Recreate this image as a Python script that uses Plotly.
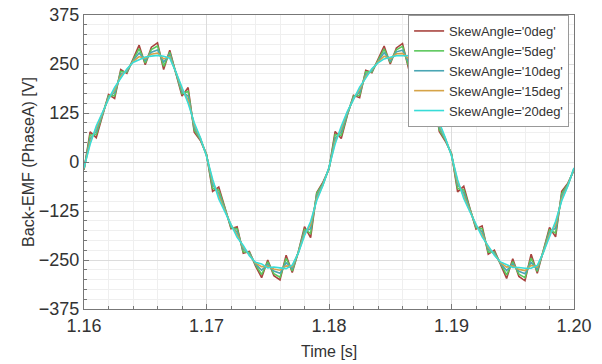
import numpy as np
import plotly.graph_objects as go

time_s = np.round(np.linspace(1.16, 1.20, 81), 5)

emf_0deg = [-20, 77, 62, 118, 172, 162, 236, 226, 262, 298, 248, 293, 304, 236, 285, 226, 168, 190, 76, 55,
            20, -75, -64, -116, -170, -165, -233, -228, -265, -295, -250, -290, -301, -238, -282, -229, -165, -193, -78, -52,
            -18, 78, 60, 120, 170, 164, 234, 228, 260, 296, 250, 291, 302, 238, 283, 224, 170, 188, 78, 53,
            22, -76, -62, -118, -171, -163, -235, -225, -263, -297, -247, -292, -303, -235, -284, -227, -167, -191, -75, -54,
            -21]
emf_5deg = [-19, 69, 70, 120, 169, 169, 231, 229, 260, 289, 253, 287, 296, 244, 280, 227, 174, 180, 82, 57,
            19, -67, -72, -118, -167, -171, -229, -231, -262, -287, -255, -285, -294, -246, -278, -229, -172, -182, -80, -55,
            -17, 70, 68, 121, 168, 170, 230, 230, 259, 288, 254, 286, 295, 245, 279, 226, 175, 179, 83, 56,
            20, -68, -71, -119, -168, -170, -230, -230, -261, -288, -254, -286, -295, -245, -279, -228, -173, -181, -81, -56,
            -19]
emf_10deg = [-17, 59, 78, 123, 165, 177, 224, 232, 258, 278, 259, 280, 286, 255, 274, 228, 180, 168, 89, 59,
             17, -57, -80, -121, -163, -179, -222, -234, -260, -276, -261, -278, -284, -257, -272, -230, -178, -170, -87, -57,
             -16, 60, 77, 124, 164, 178, 223, 233, 257, 279, 258, 281, 285, 256, 273, 227, 181, 167, 90, 58,
             18, -58, -79, -122, -164, -178, -223, -233, -259, -277, -260, -279, -285, -256, -273, -229, -179, -169, -88, -58,
             -17]
emf_15deg = [-16, 51, 86, 126, 162, 184, 219, 235, 256, 269, 264, 275, 278, 263, 269, 229, 186, 158, 95, 61,
             16, -50, -88, -124, -160, -186, -217, -237, -258, -267, -266, -273, -276, -265, -267, -231, -184, -160, -93, -59,
             -15, 52, 85, 127, 161, 185, 218, 236, 255, 270, 263, 276, 277, 264, 268, 228, 187, 157, 96, 60,
             17, -51, -87, -125, -161, -185, -218, -236, -257, -268, -265, -274, -277, -264, -268, -230, -185, -159, -94, -60,
             -16]
emf_20deg = [-15, 45, 92, 128, 160, 190, 215, 237, 254, 262, 268, 270, 272, 270, 265, 230, 190, 150, 100, 62,
             15, -44, -94, -126, -158, -192, -213, -239, -256, -260, -270, -268, -270, -272, -263, -232, -188, -152, -98, -60,
             -14, 46, 91, 129, 159, 191, 214, 238, 253, 263, 267, 271, 271, 271, 264, 229, 191, 149, 101, 61,
             16, -45, -93, -127, -159, -191, -214, -238, -255, -261, -269, -269, -271, -271, -264, -231, -189, -151, -99, -61,
             -15]

series_names = ["SkewAngle='0deg'", "SkewAngle='5deg'", "SkewAngle='10deg'",
                "SkewAngle='15deg'", "SkewAngle='20deg'"]
series_values = [emf_0deg, emf_5deg, emf_10deg, emf_15deg, emf_20deg]
series_colors = ["#a8443f", "#5cc85c", "#4aa6b4", "#d6a448", "#38dcd8"]

y_ticks = [-375, -250, -125, 0, 125, 250, 375]
x_ticks = [1.16, 1.17, 1.18, 1.19, 1.20]
x_tick_labels = ["1.16", "1.17", "1.18", "1.19", "1.20"]

fig = go.Figure()
for name, vals, col in zip(series_names, series_values, series_colors):
    fig.add_trace(go.Scatter(x=time_s, y=vals, mode="lines", name=name,
                             line=dict(color=col, width=1.6)))

font_family = "Liberation Sans, Arial, sans-serif"
fig.update_layout(
    width=602, height=364,
    margin=dict(l=84, r=28, t=15, b=55),
    paper_bgcolor="white", plot_bgcolor="white",
    font=dict(family=font_family, size=16, color="#333333"),
    showlegend=True,
    legend=dict(x=0.99, y=1.0, xanchor="right", yanchor="top",
                bgcolor="white", bordercolor="#999999", borderwidth=1,
                font=dict(size=13, color="#333333"), tracegroupgap=0,
                itemwidth=30),
    annotations=[dict(text="Time [s]", xref="paper", yref="paper", x=0.5, y=-0.146,
                      xanchor="center", yanchor="middle", showarrow=False,
                      font=dict(size=16, color="#333333"))],
)
fig.update_xaxes(
    range=[1.16, 1.20], tickvals=x_ticks, ticktext=x_tick_labels, automargin=False,
    showgrid=True, gridcolor="#dcdcdc", gridwidth=1,
    minor=dict(dtick=0.002, showgrid=True, gridcolor="#efefef", ticks="inside", ticklen=3, tickcolor="#777777"),
    ticks="inside", ticklen=5, tickcolor="#777777",
    showline=True, linecolor="#777777", linewidth=1.2, mirror=True,
    zeroline=False, tickfont=dict(size=18),
)
fig.update_yaxes(
    range=[-375, 375], tickvals=y_ticks, automargin=False,
    title=dict(text="Back-EMF (PhaseA) [V]", font=dict(size=16), standoff=0),
    showgrid=True, gridcolor="#dcdcdc", gridwidth=1,
    minor=dict(dtick=25, showgrid=True, gridcolor="#efefef", ticks="inside", ticklen=3, tickcolor="#777777"),
    ticks="inside", ticklen=5, tickcolor="#777777",
    showline=True, linecolor="#777777", linewidth=1.2, mirror=True,
    zeroline=False, tickfont=dict(size=18),
)

fig.write_html("out.html")
